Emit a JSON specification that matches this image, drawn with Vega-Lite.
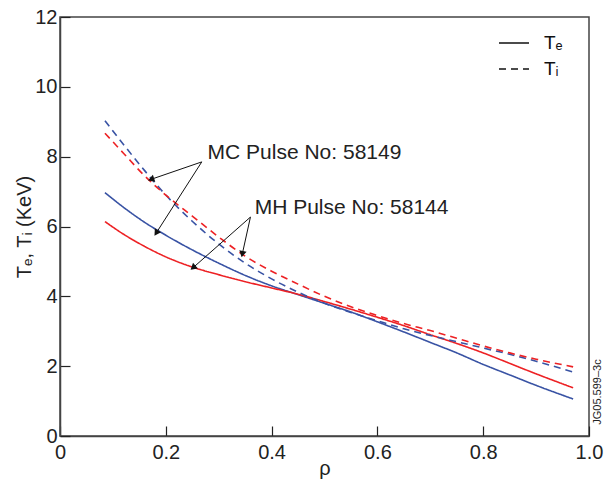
{
  "$schema": "https://vega.github.io/schema/vega-lite/v6.json",
  "width": 529,
  "height": 419,
  "autosize": "none",
  "padding": {"left": 60, "top": 17, "right": 18, "bottom": 50},
  "background": "white",
  "config": {
    "font": "Liberation Sans",
    "view": {"stroke": "#444", "strokeWidth": 1.5},
    "axis": {
      "grid": false,
      "domainColor": "#444",
      "domainWidth": 1.5,
      "tickColor": "#222",
      "tickWidth": 1.2,
      "tickSize": -10,
      "labelFont": "Liberation Sans",
      "labelFontSize": 20,
      "labelColor": "#222",
      "titleFont": "Liberation Sans",
      "titleFontSize": 20,
      "titleFontWeight": "normal",
      "titleColor": "#222"
    }
  },
  "datasets": {
    "curves": [
      {"rho": 0.085, "T": 6.97, "pulse": "MC 58149", "q": "Tₑ"},
      {"rho": 0.12, "T": 6.55, "pulse": "MC 58149", "q": "Tₑ"},
      {"rho": 0.16, "T": 6.12, "pulse": "MC 58149", "q": "Tₑ"},
      {"rho": 0.2, "T": 5.75, "pulse": "MC 58149", "q": "Tₑ"},
      {"rho": 0.25, "T": 5.33, "pulse": "MC 58149", "q": "Tₑ"},
      {"rho": 0.3, "T": 4.95, "pulse": "MC 58149", "q": "Tₑ"},
      {"rho": 0.35, "T": 4.6, "pulse": "MC 58149", "q": "Tₑ"},
      {"rho": 0.4, "T": 4.3, "pulse": "MC 58149", "q": "Tₑ"},
      {"rho": 0.45, "T": 4.05, "pulse": "MC 58149", "q": "Tₑ"},
      {"rho": 0.5, "T": 3.8, "pulse": "MC 58149", "q": "Tₑ"},
      {"rho": 0.55, "T": 3.55, "pulse": "MC 58149", "q": "Tₑ"},
      {"rho": 0.6, "T": 3.27, "pulse": "MC 58149", "q": "Tₑ"},
      {"rho": 0.65, "T": 2.98, "pulse": "MC 58149", "q": "Tₑ"},
      {"rho": 0.7, "T": 2.68, "pulse": "MC 58149", "q": "Tₑ"},
      {"rho": 0.75, "T": 2.38, "pulse": "MC 58149", "q": "Tₑ"},
      {"rho": 0.8, "T": 2.05, "pulse": "MC 58149", "q": "Tₑ"},
      {"rho": 0.85, "T": 1.75, "pulse": "MC 58149", "q": "Tₑ"},
      {"rho": 0.9, "T": 1.45, "pulse": "MC 58149", "q": "Tₑ"},
      {"rho": 0.97, "T": 1.06, "pulse": "MC 58149", "q": "Tₑ"},

      {"rho": 0.085, "T": 6.14, "pulse": "MH 58144", "q": "Tₑ"},
      {"rho": 0.12, "T": 5.78, "pulse": "MH 58144", "q": "Tₑ"},
      {"rho": 0.16, "T": 5.43, "pulse": "MH 58144", "q": "Tₑ"},
      {"rho": 0.2, "T": 5.13, "pulse": "MH 58144", "q": "Tₑ"},
      {"rho": 0.25, "T": 4.84, "pulse": "MH 58144", "q": "Tₑ"},
      {"rho": 0.3, "T": 4.62, "pulse": "MH 58144", "q": "Tₑ"},
      {"rho": 0.35, "T": 4.42, "pulse": "MH 58144", "q": "Tₑ"},
      {"rho": 0.4, "T": 4.24, "pulse": "MH 58144", "q": "Tₑ"},
      {"rho": 0.45, "T": 4.06, "pulse": "MH 58144", "q": "Tₑ"},
      {"rho": 0.5, "T": 3.85, "pulse": "MH 58144", "q": "Tₑ"},
      {"rho": 0.55, "T": 3.63, "pulse": "MH 58144", "q": "Tₑ"},
      {"rho": 0.6, "T": 3.4, "pulse": "MH 58144", "q": "Tₑ"},
      {"rho": 0.65, "T": 3.16, "pulse": "MH 58144", "q": "Tₑ"},
      {"rho": 0.7, "T": 2.9, "pulse": "MH 58144", "q": "Tₑ"},
      {"rho": 0.75, "T": 2.65, "pulse": "MH 58144", "q": "Tₑ"},
      {"rho": 0.8, "T": 2.38, "pulse": "MH 58144", "q": "Tₑ"},
      {"rho": 0.85, "T": 2.08, "pulse": "MH 58144", "q": "Tₑ"},
      {"rho": 0.9, "T": 1.78, "pulse": "MH 58144", "q": "Tₑ"},
      {"rho": 0.97, "T": 1.38, "pulse": "MH 58144", "q": "Tₑ"},

      {"rho": 0.085, "T": 9.03, "pulse": "MC 58149", "q": "Tᵢ"},
      {"rho": 0.12, "T": 8.35, "pulse": "MC 58149", "q": "Tᵢ"},
      {"rho": 0.16, "T": 7.6, "pulse": "MC 58149", "q": "Tᵢ"},
      {"rho": 0.2, "T": 6.9, "pulse": "MC 58149", "q": "Tᵢ"},
      {"rho": 0.25, "T": 6.15, "pulse": "MC 58149", "q": "Tᵢ"},
      {"rho": 0.3, "T": 5.5, "pulse": "MC 58149", "q": "Tᵢ"},
      {"rho": 0.35, "T": 4.95, "pulse": "MC 58149", "q": "Tᵢ"},
      {"rho": 0.4, "T": 4.5, "pulse": "MC 58149", "q": "Tᵢ"},
      {"rho": 0.45, "T": 4.12, "pulse": "MC 58149", "q": "Tᵢ"},
      {"rho": 0.5, "T": 3.8, "pulse": "MC 58149", "q": "Tᵢ"},
      {"rho": 0.55, "T": 3.54, "pulse": "MC 58149", "q": "Tᵢ"},
      {"rho": 0.6, "T": 3.3, "pulse": "MC 58149", "q": "Tᵢ"},
      {"rho": 0.65, "T": 3.07, "pulse": "MC 58149", "q": "Tᵢ"},
      {"rho": 0.7, "T": 2.88, "pulse": "MC 58149", "q": "Tᵢ"},
      {"rho": 0.75, "T": 2.7, "pulse": "MC 58149", "q": "Tᵢ"},
      {"rho": 0.8, "T": 2.52, "pulse": "MC 58149", "q": "Tᵢ"},
      {"rho": 0.85, "T": 2.34, "pulse": "MC 58149", "q": "Tᵢ"},
      {"rho": 0.9, "T": 2.14, "pulse": "MC 58149", "q": "Tᵢ"},
      {"rho": 0.97, "T": 1.83, "pulse": "MC 58149", "q": "Tᵢ"},

      {"rho": 0.085, "T": 8.67, "pulse": "MH 58144", "q": "Tᵢ"},
      {"rho": 0.12, "T": 8.1, "pulse": "MH 58144", "q": "Tᵢ"},
      {"rho": 0.16, "T": 7.45, "pulse": "MH 58144", "q": "Tᵢ"},
      {"rho": 0.2, "T": 6.9, "pulse": "MH 58144", "q": "Tᵢ"},
      {"rho": 0.25, "T": 6.3, "pulse": "MH 58144", "q": "Tᵢ"},
      {"rho": 0.3, "T": 5.7, "pulse": "MH 58144", "q": "Tᵢ"},
      {"rho": 0.35, "T": 5.15, "pulse": "MH 58144", "q": "Tᵢ"},
      {"rho": 0.4, "T": 4.72, "pulse": "MH 58144", "q": "Tᵢ"},
      {"rho": 0.45, "T": 4.35, "pulse": "MH 58144", "q": "Tᵢ"},
      {"rho": 0.5, "T": 4.0, "pulse": "MH 58144", "q": "Tᵢ"},
      {"rho": 0.55, "T": 3.7, "pulse": "MH 58144", "q": "Tᵢ"},
      {"rho": 0.6, "T": 3.45, "pulse": "MH 58144", "q": "Tᵢ"},
      {"rho": 0.65, "T": 3.22, "pulse": "MH 58144", "q": "Tᵢ"},
      {"rho": 0.7, "T": 3.02, "pulse": "MH 58144", "q": "Tᵢ"},
      {"rho": 0.75, "T": 2.8, "pulse": "MH 58144", "q": "Tᵢ"},
      {"rho": 0.8, "T": 2.58, "pulse": "MH 58144", "q": "Tᵢ"},
      {"rho": 0.85, "T": 2.38, "pulse": "MH 58144", "q": "Tᵢ"},
      {"rho": 0.9, "T": 2.2, "pulse": "MH 58144", "q": "Tᵢ"},
      {"rho": 0.97, "T": 1.98, "pulse": "MH 58144", "q": "Tᵢ"}
    ],
    "arrows": [
      {"x0": 0.268, "y0": 7.85, "x1": 0.174, "y1": 7.36, "angle": 251},
      {"x0": 0.268, "y0": 7.85, "x1": 0.183, "y1": 5.84, "angle": 213},
      {"x0": 0.360, "y0": 6.27, "x1": 0.253, "y1": 4.84, "angle": 229},
      {"x0": 0.360, "y0": 6.27, "x1": 0.345, "y1": 5.24, "angle": 192}
    ],
    "labels": [
      {"x": 0.279, "y": 8.1, "text": "MC Pulse No: 58149"},
      {"x": 0.368, "y": 6.53, "text": "MH Pulse No: 58144"}
    ]
  },
  "layer": [
    {
      "data": {"name": "curves"},
      "mark": {"type": "line", "strokeWidth": 1.6, "interpolate": "monotone"},
      "encoding": {
        "x": {
          "field": "rho", "type": "quantitative",
          "scale": {"domain": [0, 1], "nice": false, "zero": false},
          "axis": {
            "title": "ρ",
            "titleFontSize": 20,
            "titlePadding": -4,
            "values": [0, 0.2, 0.4, 0.6, 0.8, 1.0],
            "labelExpr": "datum.value == 0 ? '0' : format(datum.value, '.1f')",
            "labelPadding": 16,
            "labelFlush": false,
            "labelOverlap": false
          }
        },
        "y": {
          "field": "T", "type": "quantitative",
          "scale": {"domain": [0, 12], "nice": false},
          "axis": {
            "title": "Tₑ, Tᵢ (KeV)",
            "values": [0, 2, 4, 6, 8, 10, 12],
            "format": "d",
            "labelPadding": 13,
            "titlePadding": 0,
            "labelFlush": false,
            "labelOverlap": false
          }
        },
        "color": {
          "field": "pulse", "type": "nominal",
          "scale": {"domain": ["MC 58149", "MH 58144"], "range": ["#3953a4", "#ed2124"]},
          "legend": null
        },
        "strokeDash": {
          "field": "q", "type": "nominal",
          "scale": {"domain": ["Tₑ", "Tᵢ"], "range": [[1, 0], [7, 5]]},
          "legend": {
            "title": null,
            "orient": "none",
            "legendX": 438,
            "legendY": 10,
            "symbolType": "stroke",
            "symbolSize": 900,
            "symbolStrokeColor": "#111",
            "symbolStrokeWidth": 1.6,
            "labelFontSize": 19,
            "labelFont": "Liberation Sans",
            "labelColor": "#111",
            "labelOffset": 14,
            "rowPadding": -9
          }
        },
        "order": {"field": "rho", "type": "quantitative"}
      }
    },
    {
      "data": {"name": "arrows"},
      "mark": {"type": "rule", "color": "#111", "strokeWidth": 1},
      "encoding": {
        "x": {"field": "x0", "type": "quantitative"},
        "y": {"field": "y0", "type": "quantitative"},
        "x2": {"field": "x1"},
        "y2": {"field": "y1"}
      }
    },
    {
      "data": {"name": "arrows"},
      "mark": {"type": "point", "shape": "triangle", "filled": true, "color": "#111", "size": 55, "opacity": 1},
      "encoding": {
        "x": {"field": "x1", "type": "quantitative"},
        "y": {"field": "y1", "type": "quantitative"},
        "angle": {"field": "angle", "type": "quantitative", "scale": null}
      }
    },
    {
      "data": {"name": "labels"},
      "mark": {"type": "text", "align": "left", "baseline": "middle", "fontSize": 21, "font": "Liberation Sans", "color": "#222"},
      "encoding": {
        "x": {"field": "x", "type": "quantitative"},
        "y": {"field": "y", "type": "quantitative"},
        "text": {"field": "text"}
      }
    },
    {
      "data": {"values": [{"x": 1.0, "y": 1.26, "text": "JG05.599–3c"}]},
      "mark": {"type": "text", "angle": 270, "align": "center", "baseline": "middle", "fontSize": 11, "font": "Liberation Sans", "color": "#222", "dx": 0, "dy": 9},
      "encoding": {
        "x": {"field": "x", "type": "quantitative"},
        "y": {"field": "y", "type": "quantitative"},
        "text": {"field": "text"}
      }
    }
  ]
}
